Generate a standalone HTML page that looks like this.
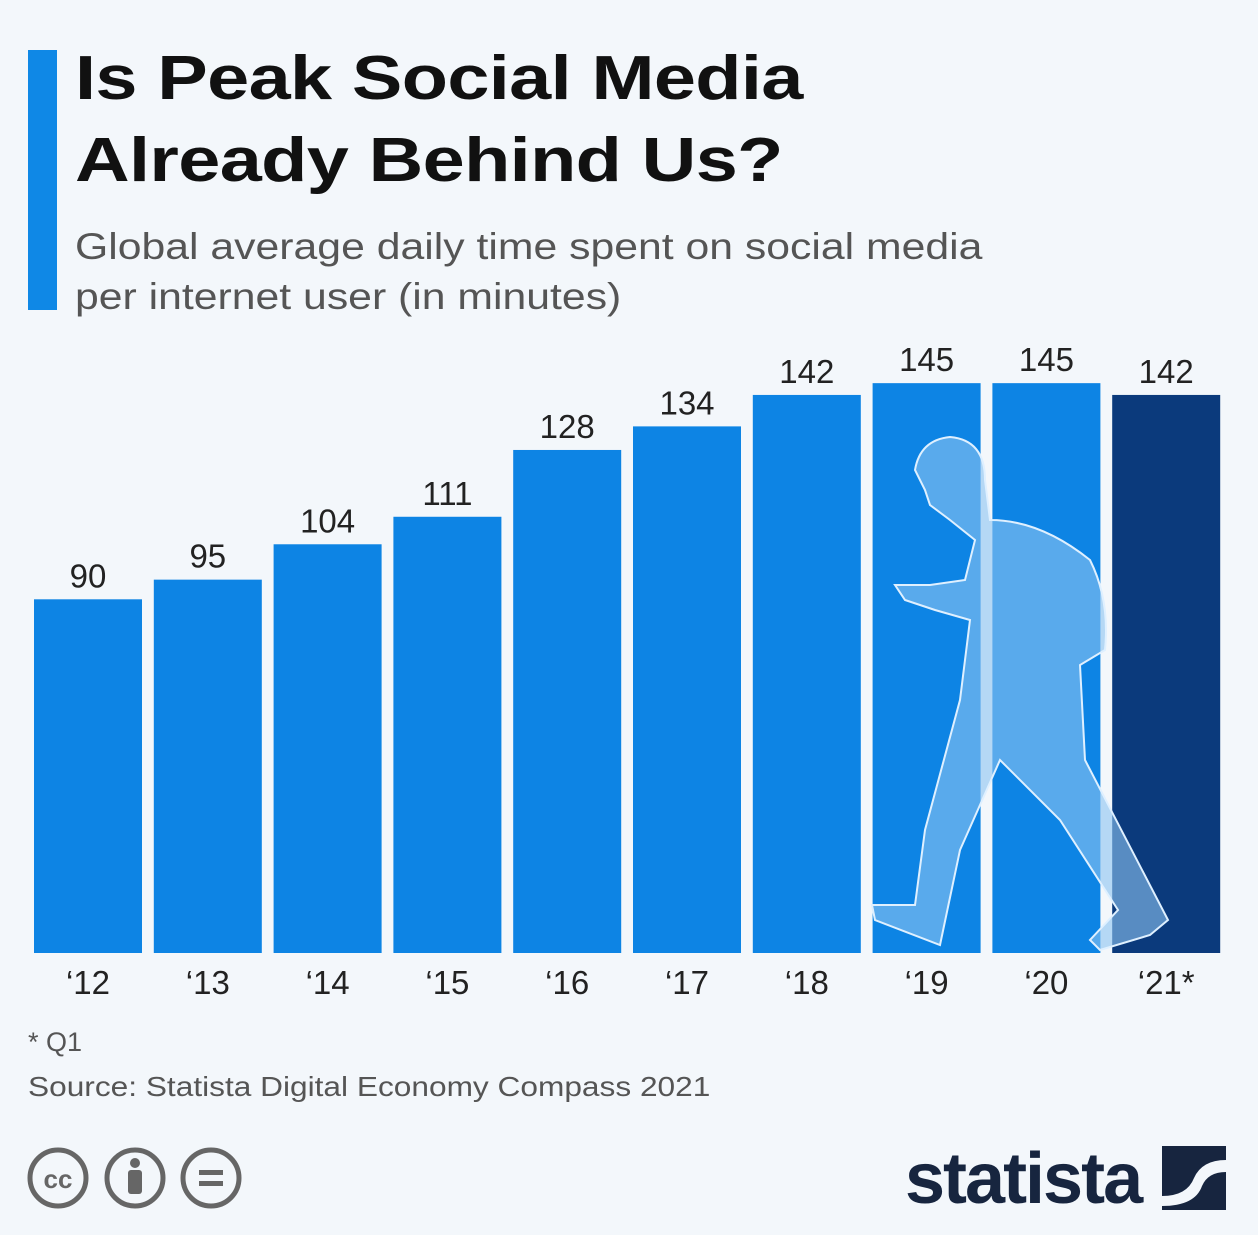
<!DOCTYPE html>
<html><head><meta charset="utf-8">
<style>
body{margin:0;width:1258px;height:1235px;background:#f3f7fb;font-family:"Liberation Sans","DejaVu Sans",sans-serif;overflow:hidden;position:relative}
.t{position:absolute;left:75px;font-weight:bold;font-size:62px;color:#111;line-height:82px;top:38px;letter-spacing:-0.5px;transform:scaleX(1.22);transform-origin:0 0;white-space:nowrap}
.s{position:absolute;left:75px;top:222px;font-size:37px;color:#555;line-height:50px;transform:scaleX(1.155);transform-origin:0 0;white-space:nowrap}
.acc{position:absolute;left:28px;top:50px;width:29px;height:260px;background:#0f88e6}
svg{position:absolute;left:0;top:0}
</style></head><body>
<div class="acc"></div>
<div class="t">Is Peak Social Media<br>Already Behind Us?</div>
<div class="s">Global average daily time spent on social media<br>per internet user (in minutes)</div>
<svg id="c" width="1258" height="1235"></svg>
<script>
const categories=["‘12","‘13","‘14","‘15","‘16","‘17","‘18","‘19","‘20","‘21*"];
const values=[90,95,104,111,128,134,142,145,145,142];
const NS="http://www.w3.org/2000/svg";
const svg=document.getElementById('c');
const base=953,scale=3.93;
function xPos(i){return 34+i*119.8;}
function yPos(v){return base-v*scale;}
function mk(t,a){const e=document.createElementNS(NS,t);for(const k in a)e.setAttribute(k,a[k]);svg.appendChild(e);return e;}
categories.forEach((c,i)=>{
 const b=mk('rect',{x:xPos(i),y:yPos(values[i]),width:108,height:base-yPos(values[i]),fill:i===9?'#0b3a7c':'#0d84e4'});
 
 
 const v=mk('text',{x:xPos(i)+54,y:yPos(values[i])-12,'text-anchor':'middle','font-size':33,fill:'#222'});
 v.textContent=values[i];
 
 
 const l=mk('text',{x:xPos(i)+54,y:994,'text-anchor':'middle','font-size':33,fill:'#222'});
 l.textContent=c;
 
 
});
const p=mk('path',{d:"M915,470 Q920,440 950,437 Q985,440 985,480 L990,520 Q1040,520 1090,560 Q1110,600 1105,650 L1080,665 L1085,760 L1168,920 L1150,935 L1100,950 L1090,940 L1118,910 L1060,820 L1000,760 L960,850 L940,945 L875,920 L872,905 L915,905 L925,830 L960,700 L970,620 L935,610 L905,600 L895,585 L930,585 L965,580 L975,540 L950,520 L930,505 L925,490 Z",fill:'#8cc3f2','fill-opacity':0.6,stroke:'#dff0ff','stroke-width':2});


</script>
<div style="position:absolute;left:28px;top:1027px;font-size:27px;color:#555">* Q1</div>
<div style="position:absolute;left:28px;top:1071px;font-size:28px;color:#555;transform:scaleX(1.13);transform-origin:0 0;white-space:nowrap">Source: Statista Digital Economy Compass 2021</div>
<svg width="260" height="70" style="left:25px;top:1145px">
<circle cx="33" cy="33" r="28" fill="none" stroke="#666" stroke-width="5"/><text x="33" y="43" text-anchor="middle" font-size="26" font-weight="bold" fill="#666">cc</text>
<circle cx="110" cy="33" r="28" fill="none" stroke="#666" stroke-width="5"/><circle cx="110" cy="18" r="5" fill="#666"/><rect x="103" y="25" width="14" height="24" rx="3" fill="#666"/>
<circle cx="186" cy="33" r="28" fill="none" stroke="#666" stroke-width="5"/><rect x="174" y="25" width="24" height="5" fill="#666"/><rect x="174" y="36" width="24" height="5" fill="#666"/>
</svg>
<div style="position:absolute;left:905px;top:1138px;font-size:72px;font-weight:bold;color:#17253f;letter-spacing:-2px">statista</div>
<svg width="64" height="64" style="left:1162px;top:1146px"><rect width="64" height="64" fill="#17253f"/><path d="M0,50 Q25,50 32,32 Q40,14 64,14 L64,26 Q46,26 40,40 Q33,60 0,60Z" fill="#f3f7fb"/></svg>
</body></html>
